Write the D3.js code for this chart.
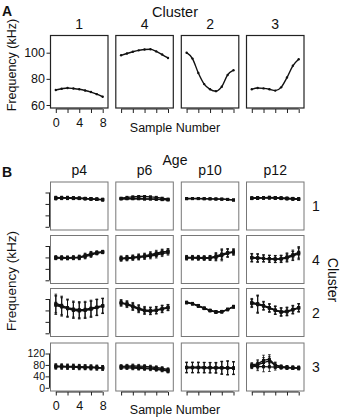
<!DOCTYPE html>
<html><head><meta charset="utf-8">
<script src="https://cdn.jsdelivr.net/npm/d3@7/dist/d3.min.js"></script>
<style>
html,body{margin:0;padding:0;background:#fff;}
text{font-family:"Liberation Sans",Arial,sans-serif;fill:#111;}
</style></head>
<body>
<svg id="chart" width="342" height="418"></svg>
<script>
// ---------- DATA ----------
const sampleNumbers = [0,1,2,3,4,5,6,7,8];
const clustersA = ["1","4","2","3"];
const clusterA1 = [71.5,72.4,73.0,72.6,72.0,71.1,69.9,68.3,66.3];
const clusterA4 = [98.0,99.4,100.7,101.8,102.5,102.6,101.0,98.6,96.0];
const clusterA2 = [100.0,95.5,84.5,76.0,72.0,70.6,74.0,83.0,86.6];
const clusterA3 = [72.0,73.0,72.7,72.0,71.0,73.5,81.0,90.0,95.0];
const yTicksA = [60,80,100];
const xTicks = [0,2,4,6,8];
const xTickLabels = [0,4,8];

const ages = ["p4","p6","p10","p12"];
const clustersB = ["1","4","2","3"];
const yTicksB = [0,40,80,120];

// row "1": per age -> list of individual curves
const rowB1Lines = [
  [[102,102,101,101,100,99,98,97,96],[100,101,102,101,100,99,98,96,95],[99,100,100,99,99,98,97,96,94]],
  [[100,103,105,106,106,105,103,100,97],[97,98,98,98,97,97,96,95,94],[99,99,99,99,98,98,97,96,95]],
  [[99,99,99,98.5,98,97.5,97,96,94],[98,98.5,98.5,98,97.5,97,96.5,95.5,93.5]],
  [[101,102,102,103,102,101,100,99,98],[99,100,101,101,100,99,98,97,96],[100,100,101,102,101,100,99,98,97]]
];
const rowB1Err = [
  [5,5,5,4,4,4,4,4,4],[1,1,1,1,1,1,1,1,1],[2,2,2,2,2,2,2,2,2],[4,4,4,4,4,4,4,4,4]
];
// row "4"
const rowB4Lines = [
  [[79,79,78,79,80,85,92,96,99],[78,77,78,78,79,83,88,95,98],[80,80,79,80,81,87,93,97,100]],
  [[76,78,80,82,84,88,92,98,102],[75,76,78,80,82,85,88,93,97],[77,79,80,83,86,90,95,99,101]],
  [[79,79,79,78,78,80,86,94,99],[78,78,77,77,78,82,90,96,98],[80,80,80,79,79,85,92,97,100]],
  [[79,78,77,75,74,74,78,86,95],[80,79,77,76,75,76,82,90,98],[78,77,76,75,74,75,79,85,92]]
];
const rowB4Err = [
  [6,6,6,6,7,8,8,6,5],[8,8,8,9,9,10,10,10,9],[7,7,7,7,8,12,18,14,10],[14,14,12,12,12,12,14,16,20]
];
// row "2"
const rowB2Lines = [
  [[105,98,88,82,80,81,85,90,95],[100,95,90,85,83,84,88,92,97],[98,92,86,80,78,80,84,90,96]],
  [[108,102,94,86,80,78,80,86,90],[106,100,92,84,78,77,80,84,89],[105,104,96,88,82,80,82,86,91]],
  [[108,104,97,88,80,75,75,84,92],[107,103,95,87,79,74,76,83,93],[108,104,96,87,80,75,76,83,94]],
  [[106,104,98,90,82,76,78,84,90],[104,100,95,88,80,74,76,82,88],[108,102,96,88,80,74,75,82,90]]
];
const rowB2Err = [
  [32,32,30,28,28,28,28,28,26],[10,10,12,12,12,12,12,12,10],[4,4,4,4,4,4,4,4,4],[14,30,14,14,14,14,14,14,14]
];
// row "3"
const rowB3Lines = [
  [[75,74,74,73,73,72,72,71,70],[73,73,72,72,71,71,70,70,69],[76,76,75,75,74,73,72,71,70]],
  [[75,76,77,76,75,73,71,68,64],[70,70,69,68,67,66,64,62,58],[73,73,72,71,70,69,67,64,60]],
  [[71,71,71,71,70,70,70,70,69],[70,70,70,70,70,69,69,69,68],[72,72,72,71,71,71,71,70,70]],
  [[80,84,96,100,80,74,72,70,70],[76,80,88,94,78,73,71,70,69],[75,74,74,73,72,71,70,70,69]]
];
const rowB3Err = [
  [8,8,8,8,8,8,8,8,8],[6,6,6,6,6,6,6,6,6],[18,18,18,18,18,18,22,24,22],[8,14,18,16,10,6,6,6,6]
];

// ---------- LAYOUT ----------
const svg = d3.select("#chart");
const colLeft = [50.5,115.8,181.3,246.5];
const panelW = 57.5;
const padX = 5.3;

// ---------- PANEL A ----------
const aTop = 35.5, aBottom = 108;
const yA = d3.scaleLinear().domain([60,100]).range([105,52.7]);
const seriesA = [clusterA1, clusterA4, clusterA2, clusterA3];

svg.append("text").attr("x",2).attr("y",16).attr("font-size",14).attr("font-weight","bold").text("A");
svg.append("text").attr("x",175).attr("y",17).attr("font-size",14.5).attr("text-anchor","middle").text("Cluster");

seriesA.forEach((vals,i)=>{
  const x0 = colLeft[i];
  const xs = d3.scaleLinear().domain([0,8]).range([x0+padX, x0+panelW-padX]);
  const g = svg.append("g");
  g.append("rect").attr("x",x0).attr("y",aTop).attr("width",panelW).attr("height",aBottom-aTop)
    .attr("fill","none").attr("stroke","#222").attr("stroke-width",1.2);
  g.append("text").attr("x",x0+panelW/2).attr("y",29).attr("font-size",14).attr("text-anchor","middle").text(clustersA[i]);
  const xAxis = d3.axisBottom(xs).tickValues(xTicks).tickSize(4).tickSizeOuter(0)
    .tickFormat(d => (i===0 && xTickLabels.includes(d)) ? d : "");
  const xa = g.append("g").attr("transform",`translate(0,${aBottom+1})`).call(xAxis);
  xa.select(".domain").remove();
  xa.append("line").attr("x1",xs(0)).attr("x2",xs(8)).attr("stroke","#222");
  xa.selectAll("line").attr("stroke","#222");
  xa.selectAll("text").attr("font-size",12.5).attr("font-family","Liberation Sans, Arial, sans-serif").attr("fill","#111").attr("dy","0.9em");
  if(i===0){
    const yAxis = d3.axisLeft(yA).tickValues(yTicksA).tickSize(4).tickSizeOuter(0);
    const ya = g.append("g").attr("transform",`translate(${x0},0)`).call(yAxis);
    ya.select(".domain").remove();
    ya.append("line").attr("y1",yA(60)).attr("y2",yA(100)).attr("stroke","#222");
    ya.selectAll("line").attr("stroke","#222");
    ya.selectAll("text").attr("font-size",12.5).attr("font-family","Liberation Sans, Arial, sans-serif").attr("fill","#111").attr("x",-5.5);
  }
  const line = d3.line().x((d,j)=>xs(sampleNumbers[j])).y(d=>yA(d)).curve(d3.curveMonotoneX);
  g.append("path").attr("d",line(vals)).attr("fill","none").attr("stroke","#111").attr("stroke-width",1.4);
  g.selectAll("circle").data(vals).join("circle")
    .attr("cx",(d,j)=>xs(sampleNumbers[j])).attr("cy",d=>yA(d)).attr("r",1.2).attr("fill","#111");
});
svg.append("text").attr("transform","translate(15.5,65) rotate(-90)").attr("font-size",12.5)
  .attr("text-anchor","middle").text("Frequency (kHz)");
svg.append("text").attr("x",175).attr("y",132).attr("font-size",12.5).attr("text-anchor","middle").text("Sample Number");

// ---------- PANEL B ----------
const rowTop = [182,235.5,288.5,343];
const rowH = 48;
const rowsLines = [rowB1Lines,rowB4Lines,rowB2Lines,rowB3Lines];
const rowsErr = [rowB1Err,rowB4Err,rowB2Err,rowB3Err];

svg.append("text").attr("x",2).attr("y",177).attr("font-size",14).attr("font-weight","bold").text("B");
svg.append("text").attr("x",175).attr("y",165).attr("font-size",14).attr("text-anchor","middle").text("Age");
ages.forEach((a,i)=>{
  svg.append("text").attr("x",colLeft[i]+panelW/2).attr("y",175).attr("font-size",14).attr("text-anchor","middle").text(a);
});

rowsLines.forEach((rowLines,r)=>{
  const top = rowTop[r], bottom = top+rowH;
  const ys = d3.scaleLinear().domain([0,120]).range([bottom-3.2, bottom-3.2-34.3]);
  svg.append("text").attr("x",312).attr("y",(top+bottom)/2+5).attr("font-size",14).text(clustersB[r]);
  rowLines.forEach((lines,c)=>{
    const x0 = colLeft[c];
    const xs = d3.scaleLinear().domain([0,8]).range([x0+padX, x0+panelW-padX]);
    const g = svg.append("g");
    g.append("rect").attr("x",x0).attr("y",top).attr("width",panelW).attr("height",rowH)
      .attr("fill","none").attr("stroke","#777").attr("stroke-width",1);
    const err = rowsErr[r][c];
    const line = d3.line().x((d,j)=>xs(sampleNumbers[j])).y(d=>ys(d));
    lines.forEach(vals=>{
      vals.forEach((v,j)=>{
        const xx = xs(sampleNumbers[j]);
        g.append("line").attr("x1",xx).attr("x2",xx).attr("y1",ys(v-err[j])).attr("y2",ys(v+err[j]))
          .attr("stroke","#111").attr("stroke-width",0.8);
        [v-err[j],v+err[j]].forEach(e=>{
          g.append("line").attr("x1",xx-1.3).attr("x2",xx+1.3).attr("y1",ys(e)).attr("y2",ys(e))
            .attr("stroke","#111").attr("stroke-width",0.8);
        });
      });
      g.append("path").attr("d",line(vals)).attr("fill","none").attr("stroke","#111").attr("stroke-width",1.3);
      g.selectAll(null).data(vals).join("rect")
        .attr("x",(d,j)=>xs(sampleNumbers[j])-1.5).attr("y",d=>ys(d)-1.5).attr("width",3).attr("height",3).attr("fill","#111");
    });
    if(c===0){
      const yAxis = d3.axisLeft(ys).tickValues(yTicksB).tickSize(4).tickSizeOuter(0)
        .tickFormat(d => r===3 ? d : "");
      const ya = g.append("g").attr("transform",`translate(${x0-1},0)`).call(yAxis);
      ya.select(".domain").remove();
      ya.append("line").attr("y1",ys(0)).attr("y2",ys(120)).attr("stroke","#222");
      ya.selectAll("line").attr("stroke","#222");
      ya.selectAll("text").attr("font-size",10.5).attr("font-family","Liberation Sans, Arial, sans-serif").attr("fill","#111").attr("x",-4.5);
    }
    if(r===3){
      const xAxis = d3.axisBottom(xs).tickValues(xTicks).tickSize(3.5).tickSizeOuter(0)
        .tickFormat(d => (c===0 && xTickLabels.includes(d)) ? d : "");
      const xa = g.append("g").attr("transform",`translate(0,${bottom+1})`).call(xAxis);
      xa.select(".domain").remove();
      xa.append("line").attr("x1",xs(0)).attr("x2",xs(8)).attr("stroke","#222");
      xa.selectAll("line").attr("stroke","#222");
      xa.selectAll("text").attr("font-size",12.5).attr("font-family","Liberation Sans, Arial, sans-serif").attr("fill","#111").attr("dy","0.9em");
    }
  });
});
svg.append("text").attr("transform","translate(16,281) rotate(-90)").attr("font-size",13.5)
  .attr("text-anchor","middle").text("Frequency (kHz)");
svg.append("text").attr("transform","translate(328,280) rotate(90)").attr("font-size",14)
  .attr("text-anchor","middle").text("Cluster");
svg.append("text").attr("x",175).attr("y",414).attr("font-size",12.5).attr("text-anchor","middle").text("Sample Number");
</script>
</body></html>
